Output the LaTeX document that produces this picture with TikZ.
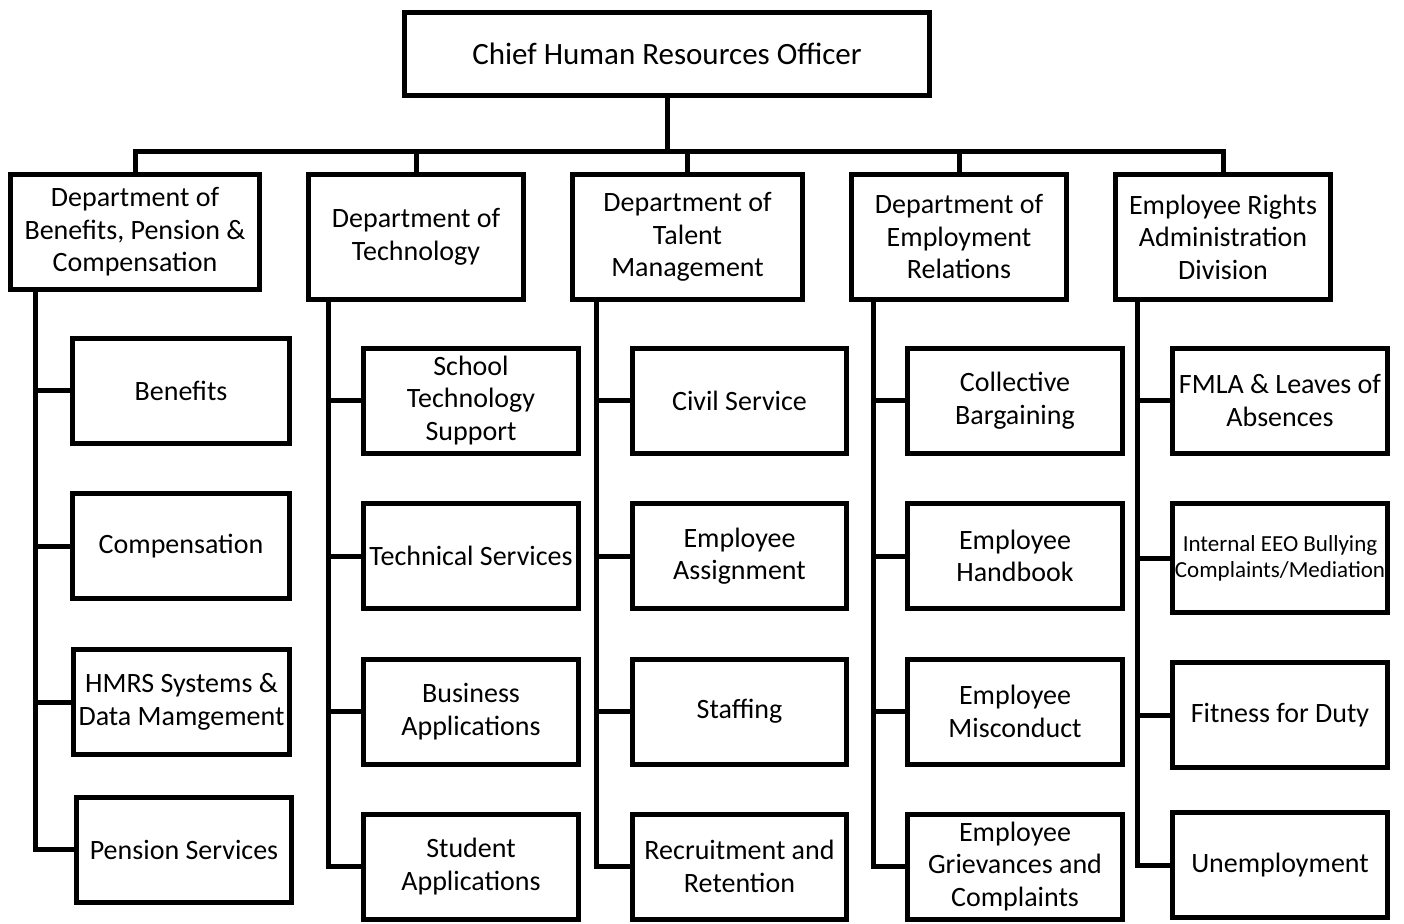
\documentclass[tikz,border=0pt]{standalone}
\usepackage{fontspec}
\setmainfont{Carlito}
\begin{document}
\begin{tikzpicture}[x=1pt,y=-1pt,
  box/.style={draw, line width=5pt, inner sep=0pt, align=center, font=\fontsize{28}{32.5}\selectfont},
  dept/.style={box, minimum width=215pt, minimum height=125pt},
  child/.style={box, minimum width=215pt, minimum height=105pt},
  conn/.style={line width=5pt}]
\useasboundingbox (0,0) rectangle (1404,923);
% top
\node[box, minimum width=525pt, minimum height=83pt, font=\fontsize{31}{36}\selectfont] (top) at (667,54) {Chief Human Resources Officer};
% departments
\node[dept, minimum width=249pt, minimum height=115pt] (d1) at (135,232) {Department of\\Benefits, Pension \&\\Compensation};
\node[dept] (d2) at (416,237) {Department of\\Technology};
\node[dept, minimum width=230pt] (d3) at (687.5,237) {Department of\\Talent\\Management};
\node[dept] (d4) at (959,237) {Department of\\Employment\\Relations};
\node[dept] (d5) at (1223,237) {Employee Rights\\Administration\\Division};
% column 1
\node[child, minimum width=217pt] (c11) at (181,390.5) {Benefits};
\node[child, minimum width=217pt] (c12) at (181,546) {Compensation};
\node[child, minimum width=216pt] (c13) at (181.5,702) {HMRS Systems \&\\Data Mamgement};
\node[child] (c14) at (184,849.5) {Pension Services};
% column 2
\node[child] (c21) at (471,400.5) {School\\Technology\\Support};
\node[child] (c22) at (471,556) {Technical Services};
\node[child] (c23) at (471,711.5) {Business\\Applications};
\node[child] (c24) at (471,866.5) {Student\\Applications};
% column 3
\node[child, minimum width=214pt] (c31) at (739.5,400.5) {Civil Service};
\node[child, minimum width=214pt] (c32) at (739.5,556) {Employee\\Assignment};
\node[child, minimum width=214pt] (c33) at (739.5,711.5) {Staffing};
\node[child, minimum width=214pt] (c34) at (739.5,866.5) {Recruitment and\\Retention};
% column 4
\node[child] (c41) at (1015,400.5) {Collective\\Bargaining};
\node[child] (c42) at (1015,556) {Employee\\Handbook};
\node[child] (c43) at (1015,711.5) {Employee\\Misconduct};
\node[child] (c44) at (1015,866.5) {Employee\\Grievances and\\Complaints};
% column 5
\node[child] (c51) at (1280,400.5) {FMLA \& Leaves of\\Absences};
\node[child, minimum height=109pt, font=\fontsize{23}{26}\selectfont] (c52) at (1280,558) {Internal EEO Bullying\\Complaints/Mediation};
\node[child] (c53) at (1280,715) {Fitness for Duty};
\node[child] (c54) at (1280,865) {Unemployment};
% bus
\coordinate (bus) at (667,151);
\draw[conn] (top.south) -- (top.south |- bus);
\draw[conn] (d1.north) |- (bus) -| (d5.north);
\foreach \d in {d2,d3,d4} \draw[conn] (\d.north) -- (\d.north |- bus);
% spines
\coordinate (s1) at (35,292);
\coordinate (s2) at (328,302);
\coordinate (s3) at (596,302);
\coordinate (s4) at (873,302);
\coordinate (s5) at (1137,302);
\foreach \k in {1,...,5}{
  \draw[conn] (s\k) |- (c\k4.west);
  \foreach \j in {1,2,3} \draw[conn] (c\k\j.west) -- (c\k\j.west -| s\k);
}
\end{tikzpicture}
\end{document}
